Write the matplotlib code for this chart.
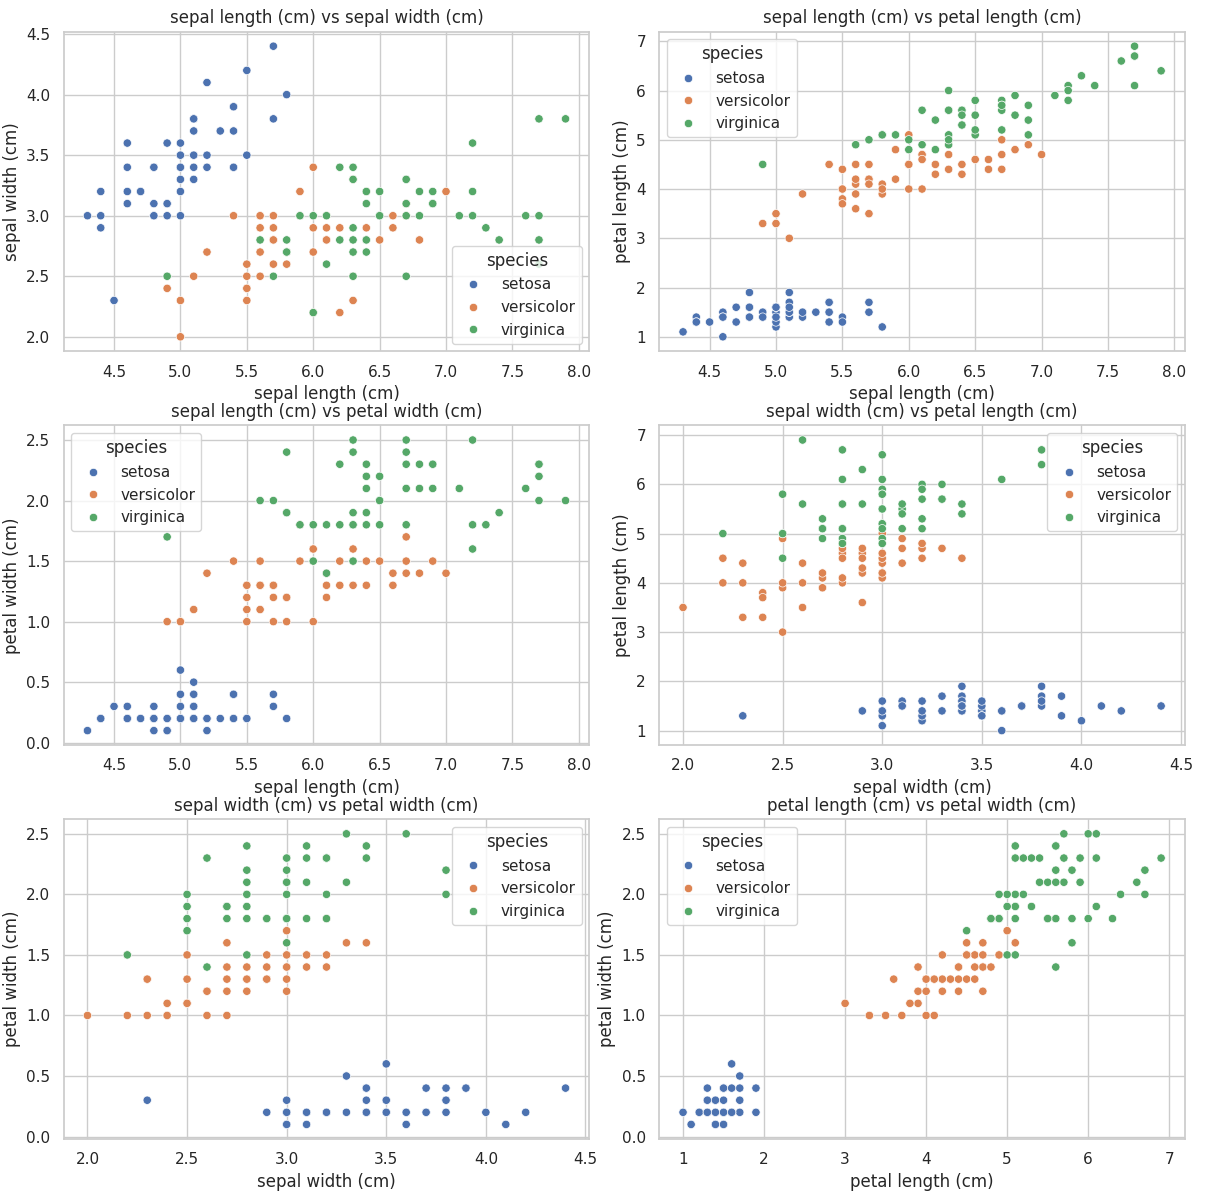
import matplotlib
matplotlib.use("Agg")
import matplotlib.pyplot as plt
import seaborn as sns
import pandas as pd

sns.set_theme(style="whitegrid")

setosa_sepal_length = [5.1,4.9,4.7,4.6,5.0,5.4,4.6,5.0,4.4,4.9,5.4,4.8,4.8,4.3,5.8,5.7,5.4,5.1,5.7,5.1,
                       5.4,5.1,4.6,5.1,4.8,5.0,5.0,5.2,5.2,4.7,4.8,5.4,5.2,5.5,4.9,5.0,5.5,4.9,4.4,5.1,
                       5.0,4.5,4.4,5.0,5.1,4.8,5.1,4.6,5.3,5.0]
setosa_sepal_width = [3.5,3.0,3.2,3.1,3.6,3.9,3.4,3.4,2.9,3.1,3.7,3.4,3.0,3.0,4.0,4.4,3.9,3.5,3.8,3.8,
                      3.4,3.7,3.6,3.3,3.4,3.0,3.4,3.5,3.4,3.2,3.1,3.4,4.1,4.2,3.1,3.2,3.5,3.6,3.0,3.4,
                      3.5,2.3,3.2,3.5,3.8,3.0,3.8,3.2,3.7,3.3]
setosa_petal_length = [1.4,1.4,1.3,1.5,1.4,1.7,1.4,1.5,1.4,1.5,1.5,1.6,1.4,1.1,1.2,1.5,1.3,1.4,1.7,1.5,
                       1.7,1.5,1.0,1.7,1.9,1.6,1.6,1.5,1.4,1.6,1.6,1.5,1.5,1.4,1.5,1.2,1.3,1.4,1.3,1.5,
                       1.3,1.3,1.3,1.6,1.9,1.4,1.6,1.4,1.5,1.4]
setosa_petal_width = [0.2,0.2,0.2,0.2,0.2,0.4,0.3,0.2,0.2,0.1,0.2,0.2,0.1,0.1,0.2,0.4,0.4,0.3,0.3,0.3,
                      0.2,0.4,0.2,0.5,0.2,0.2,0.4,0.2,0.2,0.2,0.2,0.4,0.1,0.2,0.2,0.2,0.2,0.1,0.2,0.2,
                      0.3,0.3,0.2,0.6,0.4,0.3,0.2,0.2,0.2,0.2]

versicolor_sepal_length = [7.0,6.4,6.9,5.5,6.5,5.7,6.3,4.9,6.6,5.2,5.0,5.9,6.0,6.1,5.6,6.7,5.6,5.8,6.2,5.6,
                           5.9,6.1,6.3,6.1,6.4,6.6,6.8,6.7,6.0,5.7,5.5,5.5,5.8,6.0,5.4,6.0,6.7,6.3,5.6,5.5,
                           5.5,6.1,5.8,5.0,5.6,5.7,5.7,6.2,5.1,5.7]
versicolor_sepal_width = [3.2,3.2,3.1,2.3,2.8,2.8,3.3,2.4,2.9,2.7,2.0,3.0,2.2,2.9,2.9,3.1,3.0,2.7,2.2,2.5,
                          3.2,2.8,2.5,2.8,2.9,3.0,2.8,3.0,2.9,2.6,2.4,2.4,2.7,2.7,3.0,3.4,3.1,2.3,3.0,2.5,
                          2.6,3.0,2.6,2.3,2.7,3.0,2.9,2.9,2.5,2.8]
versicolor_petal_length = [4.7,4.5,4.9,4.0,4.6,4.5,4.7,3.3,4.6,3.9,3.5,4.2,4.0,4.7,3.6,4.4,4.5,4.1,4.5,3.9,
                           4.8,4.0,4.9,4.7,4.3,4.4,4.8,5.0,4.5,3.5,3.8,3.7,3.9,5.1,4.5,4.5,4.7,4.4,4.1,4.0,
                           4.4,4.6,4.0,3.3,4.2,4.2,4.2,4.3,3.0,4.1]
versicolor_petal_width = [1.4,1.5,1.5,1.3,1.5,1.3,1.6,1.0,1.3,1.4,1.0,1.5,1.0,1.4,1.3,1.4,1.5,1.0,1.5,1.1,
                          1.8,1.3,1.5,1.2,1.3,1.4,1.4,1.7,1.5,1.0,1.1,1.0,1.2,1.6,1.5,1.6,1.5,1.3,1.3,1.3,
                          1.2,1.4,1.2,1.0,1.3,1.2,1.3,1.3,1.1,1.3]

virginica_sepal_length = [6.3,5.8,7.1,6.3,6.5,7.6,4.9,7.3,6.7,7.2,6.5,6.4,6.8,5.7,5.8,6.4,6.5,7.7,7.7,6.0,
                          6.9,5.6,7.7,6.3,6.7,7.2,6.2,6.1,6.4,7.2,7.4,7.9,6.4,6.3,6.1,7.7,6.3,6.4,6.0,6.9,
                          6.7,6.9,5.8,6.8,6.7,6.7,6.3,6.5,6.2,5.9]
virginica_sepal_width = [3.3,2.7,3.0,2.9,3.0,3.0,2.5,2.9,2.5,3.6,3.2,2.7,3.0,2.5,2.8,3.2,3.0,3.8,2.6,2.2,
                         3.2,2.8,2.8,2.7,3.3,3.2,2.8,3.0,2.8,3.0,2.8,3.8,2.8,2.8,2.6,3.0,3.4,3.1,3.0,3.1,
                         3.1,3.1,2.7,3.2,3.3,3.0,2.5,3.0,3.4,3.0]
virginica_petal_length = [6.0,5.1,5.9,5.6,5.8,6.6,4.5,6.3,5.8,6.1,5.1,5.3,5.5,5.0,5.1,5.3,5.5,6.7,6.9,5.0,
                          5.7,4.9,6.7,4.9,5.7,6.0,4.8,4.9,5.6,5.8,6.1,6.4,5.6,5.1,5.6,6.1,5.6,5.5,4.8,5.4,
                          5.6,5.1,5.1,5.9,5.7,5.2,5.0,5.2,5.4,5.1]
virginica_petal_width = [2.5,1.9,2.1,1.8,2.2,2.1,1.7,1.8,1.8,2.5,2.0,1.9,2.1,2.0,2.4,2.3,1.8,2.2,2.3,1.5,
                         2.3,2.0,2.0,1.8,2.1,1.8,1.8,1.8,2.1,1.6,1.9,2.0,2.2,1.5,1.4,2.3,2.4,1.8,1.8,2.1,
                         2.4,2.3,1.9,2.3,2.5,2.3,1.9,2.0,2.3,1.8]

species_names = ["setosa", "versicolor", "virginica"]
feature_names = ["sepal length (cm)", "sepal width (cm)", "petal length (cm)", "petal width (cm)"]

groups = {
    "setosa": [setosa_sepal_length, setosa_sepal_width, setosa_petal_length, setosa_petal_width],
    "versicolor": [versicolor_sepal_length, versicolor_sepal_width, versicolor_petal_length, versicolor_petal_width],
    "virginica": [virginica_sepal_length, virginica_sepal_width, virginica_petal_length, virginica_petal_width],
}
frames = []
for sp in species_names:
    d = {f: v for f, v in zip(feature_names, groups[sp])}
    d["species"] = [sp] * len(groups[sp][0])
    frames.append(pd.DataFrame(d))
df = pd.concat(frames, ignore_index=True)

pairs = [(0, 1), (0, 2), (0, 3), (1, 2), (1, 3), (2, 3)]
legend_locs = ["lower right", "upper left", "upper left", "upper right", "upper right", "upper left"]

fig, axes = plt.subplots(3, 2, figsize=(12.06, 11.95), dpi=100)
for ax, (i, j), loc in zip(axes.flat, pairs, legend_locs):
    x, y = feature_names[i], feature_names[j]
    sns.scatterplot(data=df, x=x, y=y, hue="species", hue_order=species_names, ax=ax)
    ax.set_title(f"{x} vs {y}")
    ax.legend(title="species", loc=loc)

fig.subplots_adjust(left=0.0527, right=0.9826, top=0.9735, bottom=0.0469,
                    wspace=0.1325, hspace=0.232)
fig.savefig("out.png", dpi=100)
